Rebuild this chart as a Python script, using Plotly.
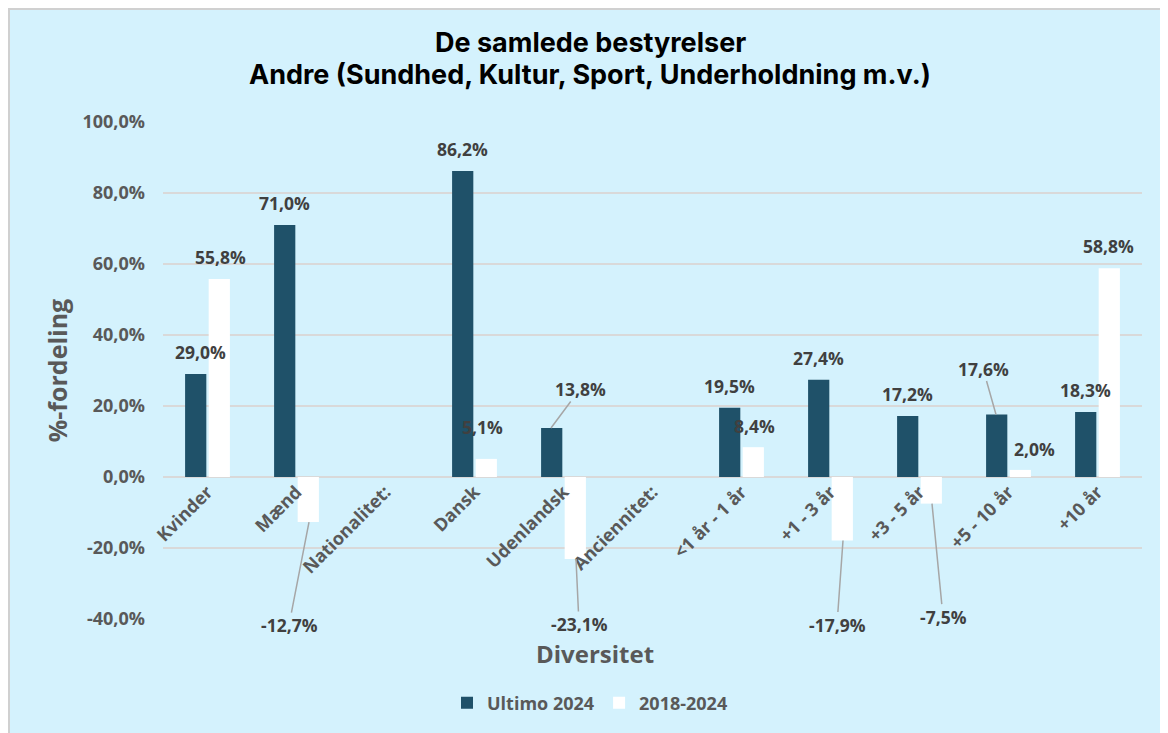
import plotly.graph_objects as go

categories = ["Kvinder", "Mænd", "Nationalitet:", "Dansk", "Udenlandsk", "Anciennitet:",
              "<1 år - 1 år", "+1 - 3 år", "+3 - 5 år", "+5 - 10 år", "+10 år"]
ultimo_2024 = [29.0, 71.0, None, 86.2, 13.8, None, 19.5, 27.4, 17.2, 17.6, 18.3]
change_2018_2024 = [55.8, -12.7, None, 5.1, -23.1, None, 8.4, -17.9, -7.5, 2.0, 58.8]
y_ticks = [-40, -20, 0, 20, 40, 60, 80, 100]

# label placement styles (pixel offsets): (dx, dy, leader_line)
ultimo_label_style = [(5, 22, False), (0, 22, False), None, (0, 22, False), (29, -39, True), None,
                      (0, 22, False), (0, 22, False), (0, 22, False), (-13, -46, True), (0, 22, False)]
change_label_style = [(0, 22, False), (-20, 103, True), None, (-5, 32, False), (3, 65, True), None,
                      (0, 21, False), (-6, 84, True), (11, 113, True), (13, 21, False), (-2, 22, False)]

BG = "#d4f2fd"
DARK = "#1f5169"
GRAY = "#595959"
FONT = "Open Sans"
Y_MIN, Y_MAX = -40, 100

def fmt(v):
    return f"{v:.1f}".replace(".", ",") + "%"

fig = go.Figure()
fig.add_trace(go.Bar(name="Ultimo 2024", x=categories, y=ultimo_2024, marker_color=DARK,
                     marker_line_width=0))
fig.add_trace(go.Bar(name="2018-2024", x=categories, y=change_2018_2024, marker_color="white",
                     marker_line_width=0))

annotations = []
for values, styles, shift in ((ultimo_2024, ultimo_label_style, -12.5),
                              (change_2018_2024, change_label_style, 12.5)):
    for cat, v, st in zip(categories, values, styles):
        if v is None or st is None:
            continue
        dx, dy, leader = st
        font = dict(family=FONT, size=17.5, color="#404040", weight="bold")
        if leader:
            annotations.append(dict(x=cat, y=v, xref="x", yref="y", xshift=shift,
                                    text=fmt(v), showarrow=True, arrowhead=0, arrowwidth=1.5,
                                    arrowcolor="#a6a6a6", ax=dx, ay=dy, standoff=0,
                                    borderpad=0, font=font))
        else:
            annotations.append(dict(x=cat, y=v, xref="x", yref="y", xshift=shift + dx,
                                    yshift=dy, text=fmt(v), showarrow=False, borderpad=0,
                                    font=font))

# plot area spans screen pixel y 122..619 and x 163..1142
def py(pix):
    return (619 - pix) / 497

def px(pix):
    return (pix - 163) / 979

title_font = dict(family="Inter", size=27, color="black", weight="bold")
annotations.append(dict(text="De samlede bestyrelser", xref="paper", yref="paper",
                        x=px(590), y=py(43), xanchor="center", yanchor="middle",
                        showarrow=False, font=title_font))
annotations.append(dict(text="Andre (Sundhed, Kultur, Sport, Underholdning m.v.)", xref="paper",
                        yref="paper", x=px(590), y=py(75), xanchor="center", yanchor="middle",
                        showarrow=False, font=title_font))
annotations.append(dict(text="Diversitet", xref="paper", yref="paper", x=px(595), y=py(653),
                        xanchor="center", yanchor="middle", showarrow=False, borderpad=0,
                        font=dict(family=FONT, size=24, color=GRAY, weight="bold")))

fig.update_layout(
    width=1160, height=725,
    margin=dict(l=155, r=26, t=114, b=114),
    paper_bgcolor=BG,
    plot_bgcolor=BG,
    barmode="group",
    bargap=0.47,
    bargroupgap=0.1,
    showlegend=True,
    legend=dict(orientation="h", x=px(590), y=py(703), xanchor="center", yanchor="middle",
                font=dict(family=FONT, size=18, color=GRAY, weight="bold"),
                bgcolor="rgba(0,0,0,0)", traceorder="normal"),
    annotations=annotations,
    shapes=[dict(type="rect", xref="paper", yref="paper", x0=px(9), x1=px(1300), y0=py(900), y1=py(9),
                 fillcolor=BG, line=dict(color="#d0d0d0", width=2), layer="below")],
    xaxis=dict(tickangle=-45, tickfont=dict(family=FONT, size=18, color=GRAY, weight="bold"),
               showgrid=False, showline=False, ticks="", automargin=False,
               anchor="free", position=(0 - Y_MIN) / (Y_MAX - Y_MIN)),
    yaxis=dict(range=[Y_MIN, Y_MAX], tickvals=y_ticks, ticktext=[fmt(t) for t in y_ticks],
               tickfont=dict(family=FONT, size=18, color=GRAY, weight="bold"),
               gridcolor="#d9d9d9", gridwidth=2, zeroline=True, zerolinecolor="#d9d9d9",
               zerolinewidth=2, ticklabelstandoff=17, automargin=False,
               title=dict(text="%-fordeling", font=dict(family=FONT, size=25, color=GRAY, weight="bold"),
                          standoff=7)),
    font=dict(family=FONT),
)

fig.write_html("out.html")
